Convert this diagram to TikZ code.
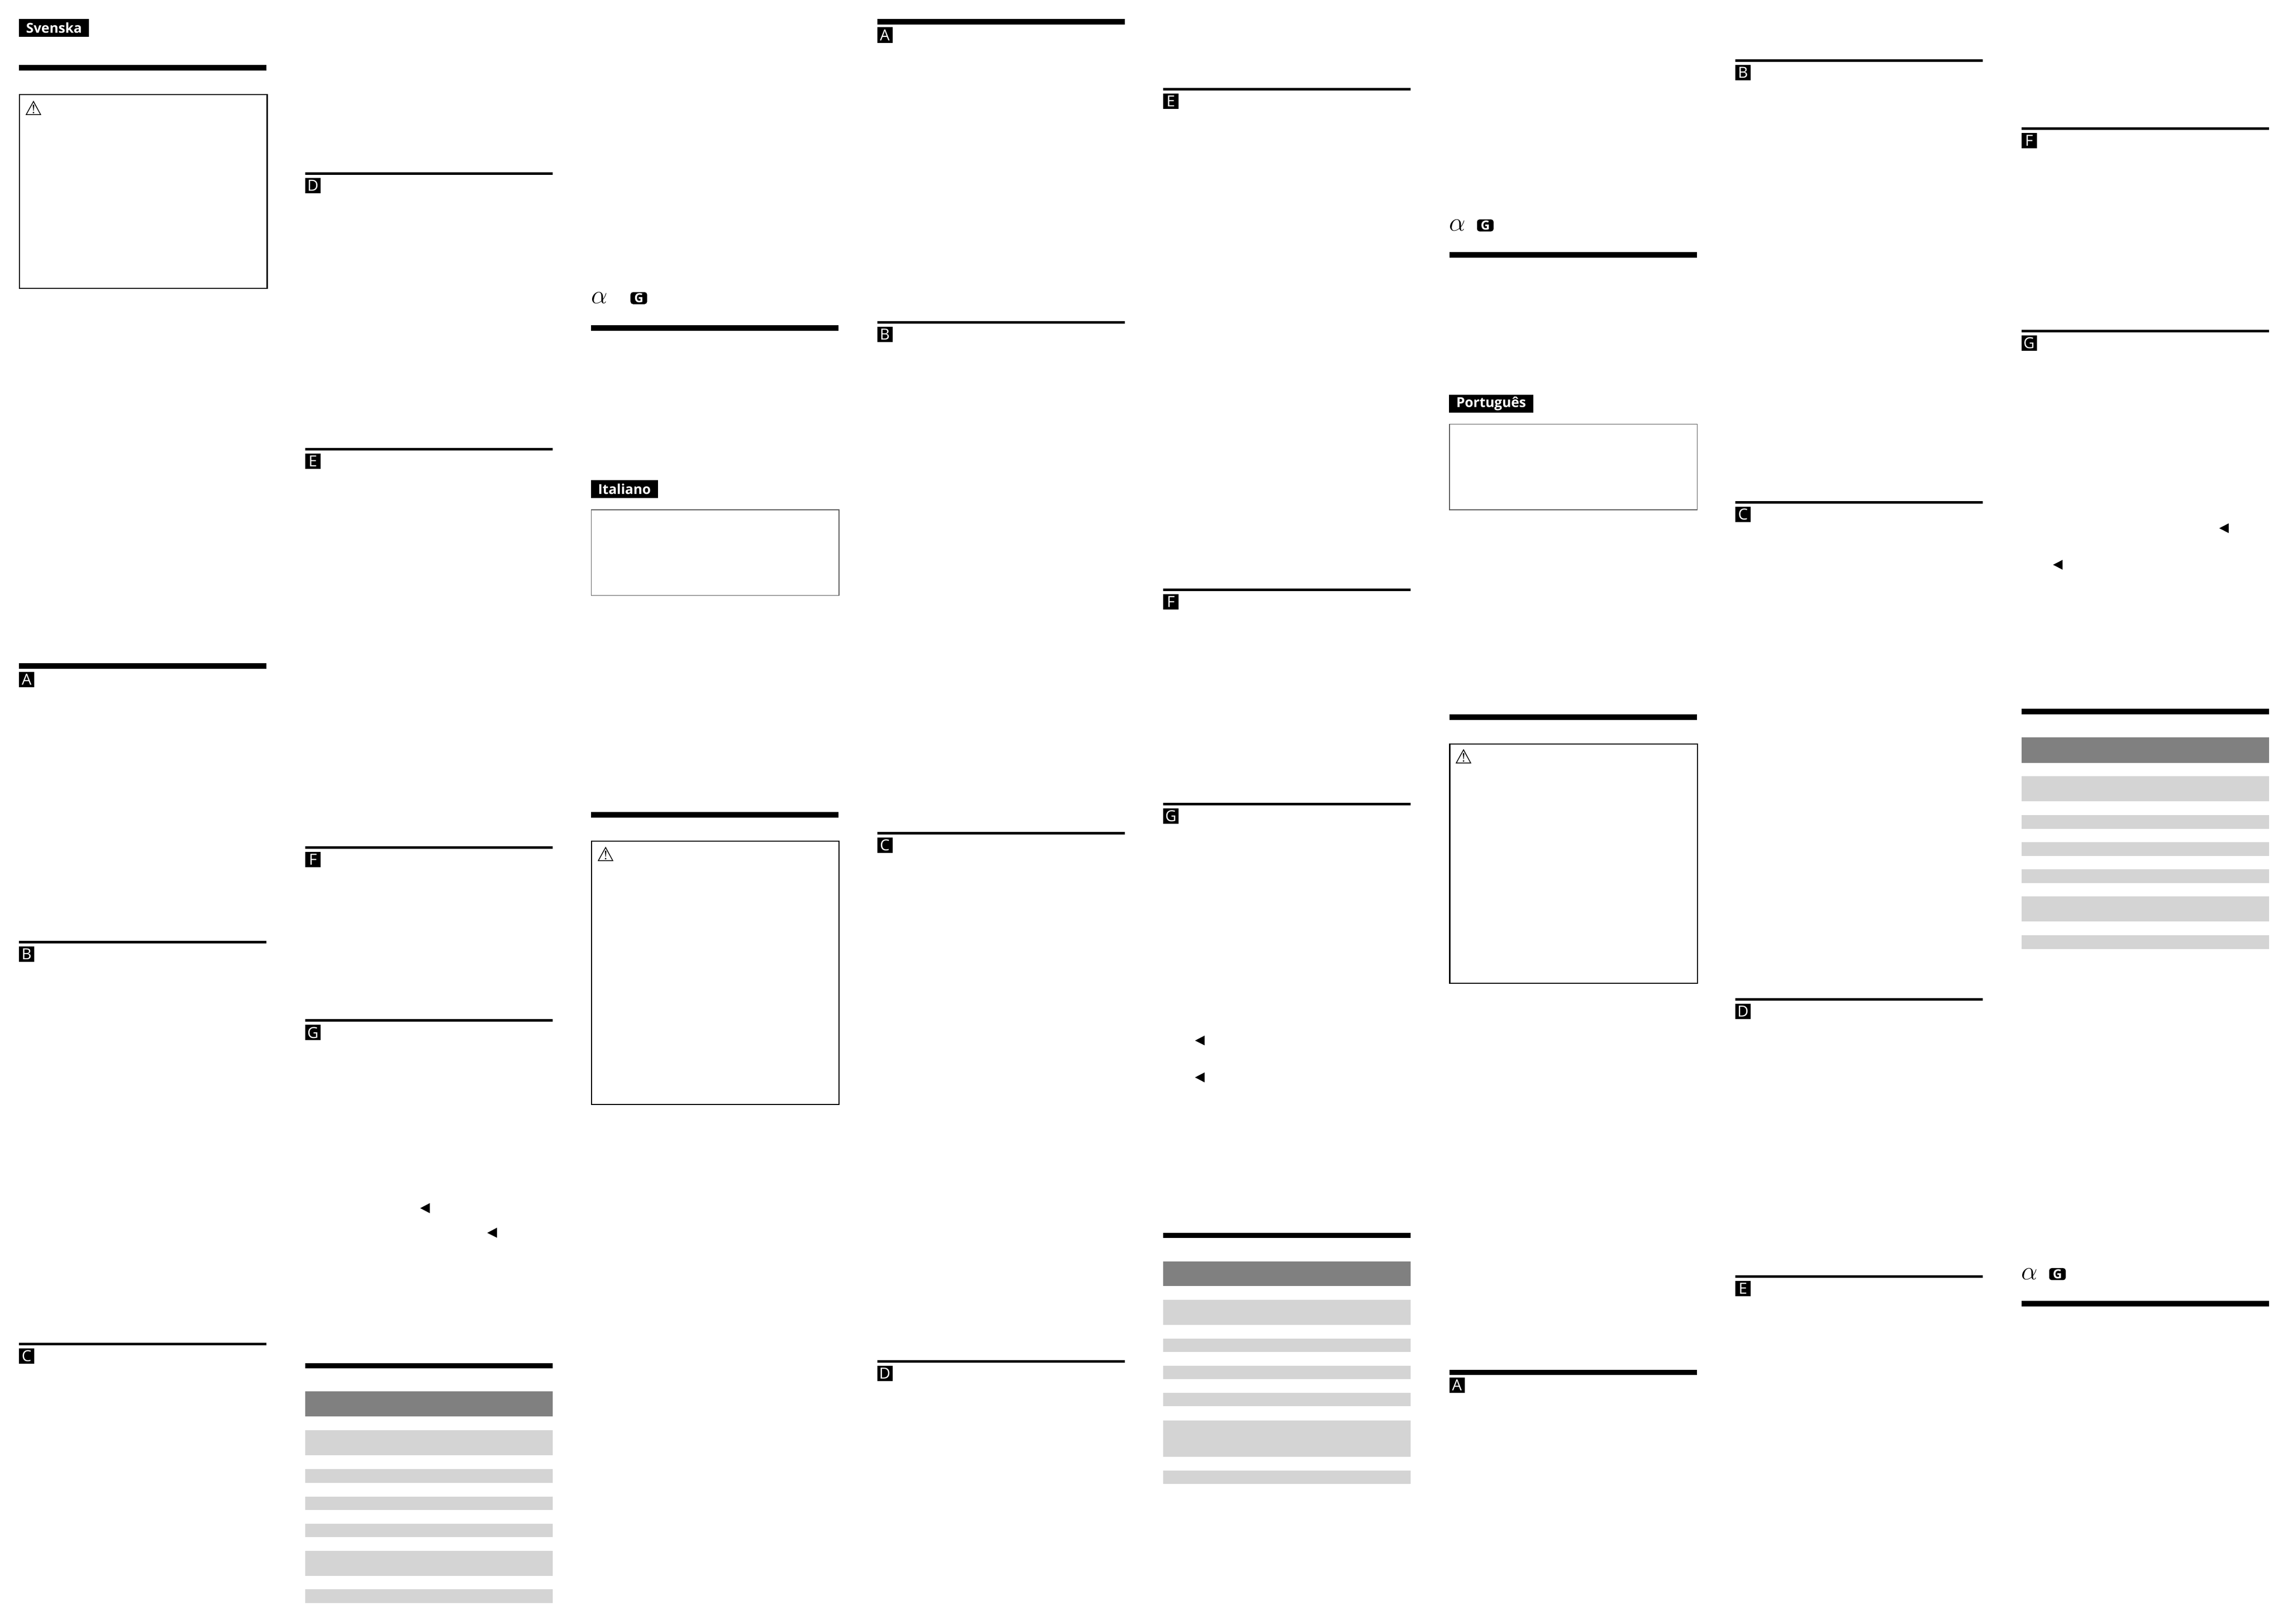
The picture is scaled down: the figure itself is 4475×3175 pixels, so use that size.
\documentclass[tikz,border=0pt]{standalone}
\usepackage{fontspec}
\setmainfont{Open Sans}
\newfontfamily\symfont{DejaVu Sans}
\begin{document}
\begin{tikzpicture}[x=0.01cm, y=-0.01cm,
        thickrule/.style = {line width=1.07mm},
        thinrule/.style = {line width=0.5mm},
        warnbox/.style = {draw, line width=0.22mm},
        noticebox/.style = {draw=black!65, line width=0.12mm},
        headbar/.style = {fill=black!50},
        rowbar/.style = {fill=black!17},
        tagbox/.style = {fill=black, text=white, minimum size=0.3cm, inner sep=0, font=\fontsize{8.5}{8.5}\selectfont},
        langbox/.style = {fill=black, text=white, minimum height=0.35cm, inner sep=0, font=\fontsize{7.6}{7.6}\selectfont\bfseries},
        warnicon/.style = {inner sep=0, font=\fontsize{11}{11}\selectfont\symfont},
        alphasign/.style = {inner sep=0, font=\fontsize{14}{14}\selectfont},
        gsign/.style = {fill=black, text=white, rounded corners=0.05cm, minimum width=0.325cm, minimum height=0.235cm, inner sep=0, font=\fontsize{7}{7}\selectfont\bfseries},
        pointer/.style = {fill=black}]
    \useasboundingbox (0,0) rectangle (4475,3175);

    \node[langbox, minimum width=1.375cm] (svenska) at (105.7,54.3) {Svenska};
    \draw[thickrule] (37,132.7) -- (521,132.7);
    \draw[warnbox] (38,185) rectangle (522.5,564);
    \node[warnicon] (warn1) at (66.3,211) {⚠};
    \draw[thickrule] (37,1302.5) -- (521,1302.5);
    \node[tagbox] (tagA1) at (52,1328.5) {A};
    \draw[thinrule] (37,1842.5) -- (521,1842.5);
    \node[tagbox] (tagB1) at (52,1866.3) {B};
    \draw[thinrule] (37,2628) -- (521,2628);
    \node[tagbox] (tagC1) at (52,2651.8) {C};

    \draw[thinrule] (597,339) -- (1081,339);
    \node[tagbox] (tagD1) at (612,362.8) {D};
    \draw[thinrule] (597,878) -- (1081,878);
    \node[tagbox] (tagE1) at (612,901.8) {E};
    \draw[thinrule] (597,1657) -- (1081,1657);
    \node[tagbox] (tagF1) at (612,1680.8) {F};
    \draw[thinrule] (597,1995.5) -- (1081,1995.5);
    \node[tagbox] (tagG1) at (612,2019.3) {G};
    \fill[pointer] (840.5,2353) -- (840.5,2372.5) -- (822,2362.7) -- cycle;
    \fill[pointer] (972,2401) -- (972,2420.5) -- (953,2411) -- cycle;
    \draw[thickrule] (597,2671) -- (1081,2671);
    \fill[headbar] (597,2721.3) rectangle (1081,2770.4);
    \fill[rowbar] (597,2797.2) rectangle (1081,2845.8);
    \fill[rowbar] (597,2873) rectangle (1081,2899.9);
    \fill[rowbar] (597,2926.7) rectangle (1081,2952.9);
    \fill[rowbar] (597,2979.7) rectangle (1081,3005.9);
    \fill[rowbar] (597,3033.3) rectangle (1081,3081.8);
    \fill[rowbar] (597,3108) rectangle (1081,3134.8);

    \node[alphasign] (alpha1) at (1172,583) {$\alpha$};
    \node[gsign] (gsign1) at (1249.4,583) {G};
    \draw[thickrule] (1156,641.2) -- (1640,641.2);
    \node[langbox, minimum width=1.308cm] (italiano) at (1221.4,956) {Italiano};
    \draw[noticebox] (1156.6,997) rectangle (1641,1164.5);
    \draw[thickrule] (1156,1593.2) -- (1640,1593.2);
    \draw[warnbox] (1157,1645) rectangle (1641,2160);
    \node[warnicon] (warn2) at (1185,1670) {⚠};

    \draw[thickrule] (1715.5,42.5) -- (2199.5,42.5);
    \node[tagbox] (tagA2) at (1730.5,68.5) {A};
    \draw[thinrule] (1715.5,630.3) -- (2199.5,630.3);
    \node[tagbox] (tagB2) at (1730.5,654.1) {B};
    \draw[thinrule] (1715.5,1629) -- (2199.5,1629);
    \node[tagbox] (tagC2) at (1730.5,1652.8) {C};
    \draw[thinrule] (1715.5,2662) -- (2199.5,2662);
    \node[tagbox] (tagD2) at (1730.5,2685.8) {D};

    \draw[thinrule] (2275,174) -- (2759,174);
    \node[tagbox] (tagE2) at (2290,197.8) {E};
    \draw[thinrule] (2275,1153) -- (2759,1153);
    \node[tagbox] (tagF2) at (2290,1176.8) {F};
    \draw[thinrule] (2275,1572) -- (2759,1572);
    \node[tagbox] (tagG2) at (2290,1595.8) {G};
    \fill[pointer] (2356,2025.3) -- (2356,2044.3) -- (2337.3,2035) -- cycle;
    \fill[pointer] (2356,2097.3) -- (2356,2116.7) -- (2337.3,2107) -- cycle;
    \draw[thickrule] (2275,2416) -- (2759,2416);
    \fill[headbar] (2275,2466.7) rectangle (2759,2515.3);
    \fill[rowbar] (2275,2542.3) rectangle (2759,2591);
    \fill[rowbar] (2275,2618.3) rectangle (2759,2644.3);
    \fill[rowbar] (2275,2671.3) rectangle (2759,2697);
    \fill[rowbar] (2275,2724) rectangle (2759,2750.3);
    \fill[rowbar] (2275,2777.7) rectangle (2759,2849);
    \fill[rowbar] (2275,2876) rectangle (2759,2902.3);

    \node[alphasign] (alpha2) at (2850,441) {$\alpha$};
    \node[gsign] (gsign2) at (2905,440.8) {G};
    \draw[thickrule] (2834.5,498.5) -- (3318.5,498.5);
    \node[langbox, minimum width=1.642cm] (portugues) at (2916.5,789.2) {Português};
    \draw[noticebox] (2835,829.5) rectangle (3319.5,997);
    \draw[thickrule] (2834.5,1402.5) -- (3318.5,1402.5);
    \draw[warnbox] (2835.5,1454.7) rectangle (3320,1923);
    \node[warnicon] (warn3) at (2863,1479.6) {⚠};
    \draw[thickrule] (2834.5,2684) -- (3318.5,2684);
    \node[tagbox] (tagA3) at (2849.5,2708.5) {A};

    \draw[thinrule] (3394,118) -- (3878,118);
    \node[tagbox] (tagB3) at (3409,141.8) {B};
    \draw[thinrule] (3394,982) -- (3878,982);
    \node[tagbox] (tagC3) at (3409,1005.8) {C};
    \draw[thinrule] (3394,1954.5) -- (3878,1954.5);
    \node[tagbox] (tagD3) at (3409,1978.3) {D};
    \draw[thinrule] (3394,2496) -- (3878,2496);
    \node[tagbox] (tagE3) at (3409,2519.8) {E};

    \draw[thinrule] (3953.5,251) -- (4437.5,251);
    \node[tagbox] (tagF3) at (3968.5,274.8) {F};
    \draw[thinrule] (3953.5,647) -- (4437.5,647);
    \node[tagbox] (tagG3) at (3968.5,670.8) {G};
    \fill[pointer] (4359,1023.5) -- (4359,1042.5) -- (4340.5,1033) -- cycle;
    \fill[pointer] (4034,1095) -- (4034,1114) -- (4015.5,1104.5) -- cycle;
    \draw[thickrule] (3953.5,1391.8) -- (4437.5,1391.8);
    \fill[headbar] (3953.5,1442.3) rectangle (4437.5,1491.7);
    \fill[rowbar] (3953.5,1518) rectangle (4437.5,1567.3);
    \fill[rowbar] (3953.5,1594.3) rectangle (4437.5,1620.7);
    \fill[rowbar] (3953.5,1647) rectangle (4437.5,1673.7);
    \fill[rowbar] (3953.5,1700.3) rectangle (4437.5,1726.7);
    \fill[rowbar] (3953.5,1753.3) rectangle (4437.5,1802.3);
    \fill[rowbar] (3953.5,1829.3) rectangle (4437.5,1856);
    \node[alphasign] (alpha3) at (3969,2492) {$\alpha$};
    \node[gsign] (gsign3) at (4024,2491.7) {G};
    \draw[thickrule] (3953.5,2549.3) -- (4437.5,2549.3);
\end{tikzpicture}
\end{document}
